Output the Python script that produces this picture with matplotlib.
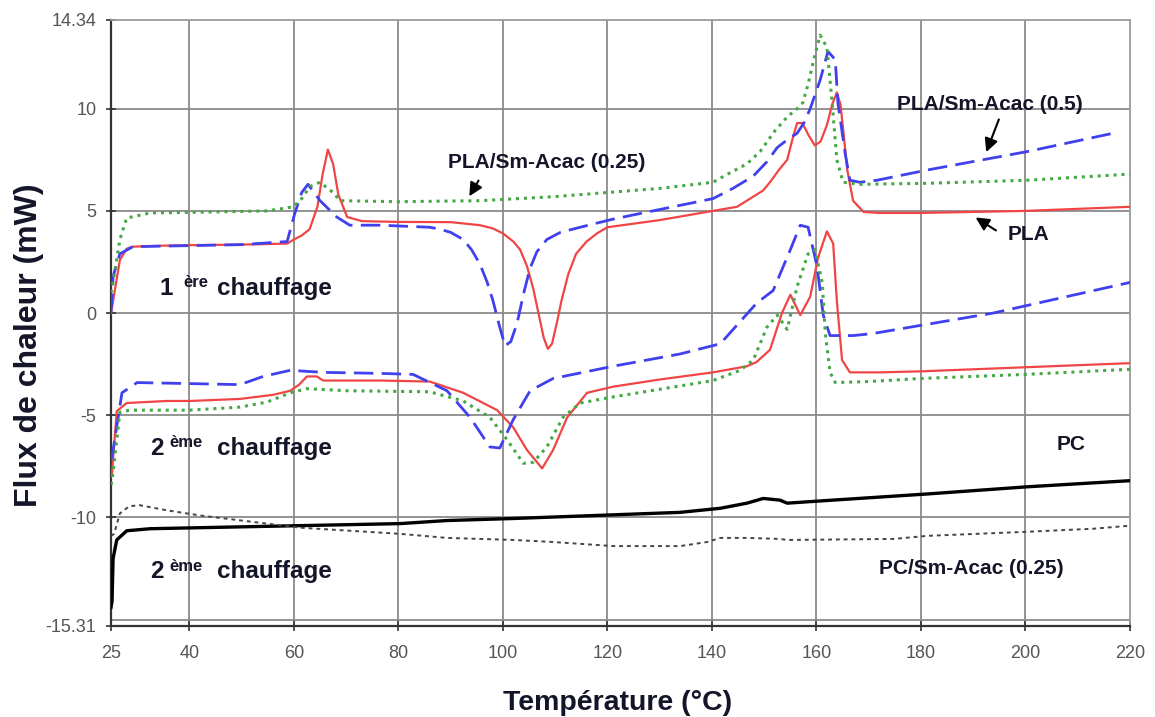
import matplotlib
matplotlib.use("Agg")
import matplotlib.pyplot as plt

# ---------------- data ----------------
# 1st heating
pla1_x = [25, 25.4, 26.7, 28, 29.2, 35, 42, 50, 58.7, 60, 61.5, 63, 64.5, 65.5, 66.5, 67.5, 68.5, 70.2, 73, 80,
          90, 95.6, 98, 100, 102, 103.3, 104.6, 105.8, 106.8, 107.8, 108.6, 109.4, 110.3, 111.2, 112.5, 114,
          116, 118, 120, 130, 140.2, 144.8, 149.8,
          151.1, 152.8, 154.4, 155.5, 156.3, 157.3, 158.5, 159.7, 160.8, 162, 163, 163.9, 164.6, 165.1, 165.9,
          167, 169, 172, 180, 190, 200, 210, 220]
pla1_y = [0.0, 0.6, 2.6, 3.15, 3.25, 3.3, 3.33, 3.35, 3.4, 3.6, 3.8, 4.1, 5.2, 6.8, 8.0, 7.3, 5.8, 4.7, 4.5, 4.46,
          4.45, 4.3, 4.15, 3.9, 3.5, 3.1, 2.3, 1.2, 0.0, -1.2, -1.75, -1.5, -0.5, 0.6, 1.9, 2.9,
          3.5, 3.9, 4.2, 4.55, 5.0, 5.2, 6.0,
          6.4, 7.0, 7.5, 8.6, 9.3, 9.3, 8.7, 8.2, 8.4, 9.2, 10.2, 10.8, 10.2, 9.0, 7.0,
          5.5, 4.95, 4.9, 4.9, 4.95, 5.0, 5.1, 5.2]

sm05_1_x = [25, 25.4, 26.7, 29.2, 40, 50, 58.7, 60.2, 61.5, 62.7, 65, 68.2, 70.7, 76.5, 86, 88, 90, 92.4, 94,
            95.6, 97, 98.1, 99.3, 100.4, 101.5, 102.7, 104, 105.2, 106.5, 108.4, 111, 114.8, 121.1, 130.6,
            140.2, 144, 147.9, 150.5, 152.5, 154.5, 156.3,
            157.6, 158.8, 160.7, 162.2, 163.6, 164.1, 165.5, 166.4, 168.3, 171.6, 181.2, 200.3, 216.8]
sm05_1_y = [0.0, 1.8, 2.9, 3.25, 3.3, 3.35, 3.5, 4.9, 5.9, 6.3, 5.5, 4.7, 4.3, 4.3, 4.2, 4.1, 3.95, 3.6, 3.1,
            2.4, 1.5, 0.6, -0.6, -1.6, -1.4, -0.5, 1.0, 2.2, 3.0, 3.6, 3.95, 4.2, 4.6, 5.1,
            5.6, 6.1, 6.7, 7.4, 8.1, 8.5, 8.8,
            9.3, 10.0, 11.4, 12.8, 12.4, 10.3, 7.8, 6.5, 6.4, 6.5, 7.0, 7.9, 8.8]

sm025_1_x = [25, 25.4, 26.7, 28, 32.5, 45, 54.9, 59.9, 61.5, 63.1, 65, 67.5, 68.8, 80, 95.6, 110, 120,
             130, 140.2, 143, 146.7, 149.2, 152, 154.4, 156.3, 157.4, 158.4, 159.4, 160.7, 162, 163,
             163.9, 165.1, 168.3, 181.2, 200.3, 220]
sm025_1_y = [1.0, 1.5, 3.6, 4.65, 4.9, 4.95, 5.0, 5.2, 5.6, 6.2, 6.4, 5.9, 5.5, 5.45, 5.5, 5.7, 5.9,
             6.1, 6.4, 6.8, 7.3, 7.9, 8.9, 9.6, 10.0, 10.3, 11.2, 12.3, 13.6, 13.0, 10.3,
             7.5, 6.4, 6.3, 6.35, 6.5, 6.8]

# 2nd heating (PLA series)
pla2_x = [25, 25.2, 26.1, 28, 35.7, 40.1, 49.7, 56, 59.3, 61, 62.5, 64.4, 65.6, 76.5, 86, 92.4, 98.9, 102,
          104.6, 107.5, 109.6, 112.3, 116.1, 121.1, 130, 140.2, 146.7, 148.5, 151.1, 153.4, 155, 156.9,
          158.8, 160.3, 162, 163.2, 163.9, 164.9, 166.4, 172.2, 180, 200, 220]
pla2_y = [-8.0, -7.8, -4.8, -4.4, -4.3, -4.3, -4.2, -4.0, -3.8, -3.5, -3.1, -3.1, -3.3, -3.3, -3.35, -3.9,
          -4.75, -5.6, -6.7, -7.6, -6.7, -5.1, -3.9, -3.6, -3.25, -2.9, -2.6, -2.4, -1.8, 0.0, 0.9, -0.1,
          0.8, 2.7, 4.0, 3.4, 0.6, -2.3, -2.9, -2.9, -2.85, -2.65, -2.45]

sm05_2_x = [25, 25.4, 27.1, 30, 40.1, 49.7, 54.1, 59.3, 65.6, 76.5, 82.8, 89.3, 93.7, 97.5, 99.4, 102, 105.2,
            109.6, 121.1, 133.9, 141.6, 148.6, 151.7, 155, 156.9, 158.4, 160.1, 161.3, 162.6, 167, 170.8,
            193.8, 220]
sm05_2_y = [-7.2, -6.7, -3.9, -3.4, -3.45, -3.5, -3.1, -2.8, -2.9, -2.95, -3.0, -3.8, -5.1, -6.55, -6.6,
            -5.2, -3.8, -3.2, -2.6, -2.0, -1.5, 0.5, 1.1, 3.1, 4.3, 4.2, 2.3, -0.1, -1.1, -1.1, -1.0,
            0.0, 1.5]

sm025_2_x = [25, 25.2, 26.7, 28.6, 40, 49.7, 54.9, 59.3, 62.5, 70.2, 86, 92.4, 97.5, 100.8, 103.9, 105.8,
             108.4, 111.5, 114.8, 121.1, 140.2, 145.4, 147.9, 150.5, 152.5, 154.4, 156.3, 158.4, 159.7,
             161.1, 161.7, 162.6, 163.6, 170, 180, 200, 220]
sm025_2_y = [-8.4, -8.2, -4.85, -4.75, -4.75, -4.6, -4.35, -3.9, -3.7, -3.8, -3.85, -4.3, -5.1, -6.2, -7.35,
             -7.3, -6.55, -5.1, -4.4, -4.1, -3.3, -2.8, -2.3, -0.7, -0.1, -0.8, 1.3, 2.9, 3.1,
             1.5, -1.0, -2.9, -3.4, -3.35, -3.2, -3.0, -2.75]

# 2nd heating (PC series)
pc_x = [25, 25.2, 25.4, 26.1, 28, 32.5, 42, 61.2, 80.3, 89.3, 102, 118, 133.9, 141.6, 146.7, 149.8, 153,
        154.4, 162, 181.2, 200.3, 220]
pc_y = [-14.4, -14.1, -12.0, -11.1, -10.65, -10.55, -10.5, -10.4, -10.3, -10.15, -10.05, -9.9, -9.75, -9.55,
        -9.3, -9.07, -9.15, -9.3, -9.17, -8.85, -8.5, -8.2]

pcsm_x = [25, 25.6, 26.7, 28.5, 30.5, 35.7, 42, 51.6, 61.2, 80.3, 89.3, 102, 109.6, 121.1, 133.9, 139.1,
          141.6, 146.7, 153, 154.4, 174.7, 181.2, 200.3, 213, 220]
pcsm_y = [-10.9, -10.8, -9.8, -9.45, -9.4, -9.65, -9.9, -10.2, -10.5, -10.8, -11.0, -11.1, -11.2, -11.4,
          -11.4, -11.2, -11.0, -11.0, -11.05, -11.1, -11.05, -10.9, -10.7, -10.55, -10.4]

x_ticks = [25, 40, 60, 80, 100, 120, 140, 160, 180, 200, 220]
y_ticks = [-15.31, -10, -5, 0, 5, 10, 14.34]
y_tick_labels = ["-15.31", "-10", "-5", "0", "5", "10", "14.34"]

# ---------------- figure ----------------
W, H = 1155, 717
fig = plt.figure(figsize=(W / 100, H / 100), dpi=100)
ax = fig.add_axes([111 / W, 1 - 626 / H, (1130 - 111) / W, (626 - 20) / H])

RED = "#f04545"
BLUE = "#4040ee"
GREEN = "#45a845"

ax.plot(pla1_x, pla1_y, color=RED, lw=1.6, zorder=3)
ax.plot(pla2_x, pla2_y, color=RED, lw=1.6, zorder=3)
ax.plot(sm05_1_x, sm05_1_y, color=BLUE, lw=2.0, dashes=(7, 3), zorder=3)
ax.plot(sm05_2_x, sm05_2_y, color=BLUE, lw=2.0, dashes=(7, 3), zorder=3)
ax.plot(sm025_1_x, sm025_1_y, color=GREEN, lw=2.2, dashes=(1, 1.6), zorder=3)
ax.plot(sm025_2_x, sm025_2_y, color=GREEN, lw=2.2, dashes=(1, 1.6), zorder=3)
ax.plot(pc_x, pc_y, color="black", lw=2.4, zorder=3)
ax.plot(pcsm_x, pcsm_y, color="#444444", lw=1.4, dashes=(2, 2), zorder=3)

ax.set_xlim(25, 220)
ax.set_ylim(-15.31, 14.34)
ax.set_xticks(x_ticks)
ax.set_xticklabels([str(v) for v in x_ticks])
ax.set_yticks(y_ticks)
ax.set_yticklabels(y_tick_labels)

# grid
for gx in x_ticks[1:-1]:
    ax.axvline(gx, color="#8a8a8a", lw=1.3, zorder=1)
for gy in [-15, -10, -5, 0, 5, 10]:
    ax.axhline(gy, color="#8a8a8a", lw=1.3, zorder=1)

for s in ["top", "right"]:
    ax.spines[s].set_color("#9a9a9a")
    ax.spines[s].set_linewidth(1.3)
for s in ["left", "bottom"]:
    ax.spines[s].set_color("#333333")
    ax.spines[s].set_linewidth(1.6)

ax.tick_params(axis="both", direction="inout", length=7, width=1.2, color="#333333",
               labelcolor="#555555", labelsize=13)
ax.tick_params(axis="x", pad=10)
ax.tick_params(axis="y", pad=7)
for lab in ax.get_xticklabels() + ax.get_yticklabels():
    lab.set_family("Liberation Sans")

TXT = "#15152a"
FAM = "Liberation Sans"

# axis labels
fig.text(618 / W, 1 - 703 / H, "Température (°C)", ha="center", va="center",
         fontsize=20.5, fontweight="bold", family=FAM, color=TXT)
fig.text(29 / W, 1 - 345 / H, "Flux de chaleur (mW)", ha="center", va="center", rotation=90,
         fontsize=23, fontweight="bold", family=FAM, color=TXT)

# "chauffage" labels
ax.text(34.2, 0.88, "1", fontsize=17.5, fontweight="bold", family=FAM, color=TXT, va="baseline")
ax.text(38.8, 1.3, "ère", fontsize=12, fontweight="bold", family=FAM, color=TXT, va="baseline")
ax.text(45.3, 0.88, "chauffage", fontsize=17.5, fontweight="bold", family=FAM, color=TXT, va="baseline")

ax.text(32.5, -6.96, "2", fontsize=17.5, fontweight="bold", family=FAM, color=TXT, va="baseline")
ax.text(36.2, -6.57, "ème", fontsize=12, fontweight="bold", family=FAM, color=TXT, va="baseline")
ax.text(45.3, -6.96, "chauffage", fontsize=17.5, fontweight="bold", family=FAM, color=TXT, va="baseline")

ax.text(32.5, -12.94, "2", fontsize=17.5, fontweight="bold", family=FAM, color=TXT, va="baseline")
ax.text(36.2, -12.6, "ème", fontsize=12, fontweight="bold", family=FAM, color=TXT, va="baseline")
ax.text(45.3, -12.94, "chauffage", fontsize=17.5, fontweight="bold", family=FAM, color=TXT, va="baseline")

# series annotations
ann = dict(fontsize=15, fontweight="bold", family=FAM, color=TXT)
arrow = dict(arrowstyle="-|>,head_length=0.8,head_width=0.4", color="black", lw=1.5)

ax.text(108.4, 7.1, "PLA/Sm-Acac (0.25)", ha="center", va="baseline", **ann)
ax.annotate("", xy=(93.3, 5.6), xytext=(95.6, 6.6), arrowprops=arrow)

ax.text(193.2, 9.95, "PLA/Sm-Acac (0.5)", ha="center", va="baseline", **ann)
ax.annotate("", xy=(192.3, 7.75), xytext=(195.1, 9.6), arrowprops=arrow)

ax.text(200.5, 3.58, "PLA", ha="center", va="baseline", **ann)
ax.annotate("", xy=(190.0, 4.75), xytext=(194.8, 3.97), arrowprops=arrow)

ax.text(208.7, -6.72, "PC", ha="center", va="baseline", **ann)
ax.text(189.6, -12.75, "PC/Sm-Acac (0.25)", ha="center", va="baseline", **ann)

fig.savefig("out.png", dpi=100)
